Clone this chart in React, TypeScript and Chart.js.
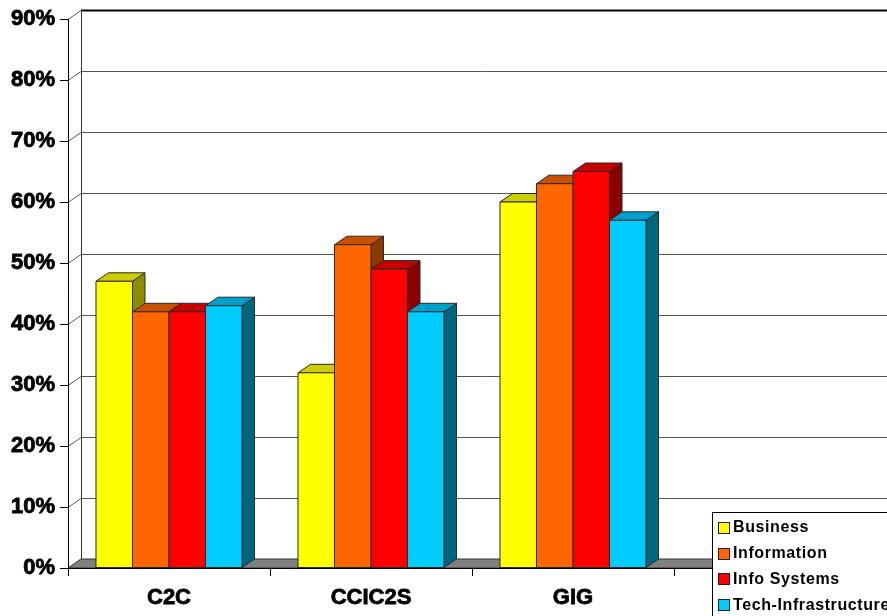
import { useEffect, useRef } from "react";
import { Chart, registerables } from "chart.js";

Chart.register(...registerables);

// Categories along the x axis (the last slot is left empty)
const categories = ["C2C", "CCIC2S", "GIG", ""];

// Series names, in legend order
const seriesNames = ["Business", "Information", "Info Systems", "Tech-Infrastructure"];

// Percentages per category
const business = [47, 32, 60, null];
const information = [42, 53, 63, null];
const infoSystems = [42, 49, 65, null];
const techInfrastructure = [43, 42, 57, null];

// Y axis range (percent)
const yMin = 0;
const yMax = 90;
const yStep = 10;

// Face colours for the 3D bars: front, top, side
const frontColors = ["#FFFF00", "#FF6600", "#FF0000", "#00CCFF"];
const topColors = ["#CCCC00", "#C85000", "#C80000", "#00A0CC"];
const sideColors = ["#8C8C00", "#8A3A00", "#8A0000", "#006680"];

const FONT = "'Liberation Sans', Arial, sans-serif";

// Oblique projection offsets for walls and bars
const WALL_DX = 13;
const WALL_DY = -9;
const BAR_DX = 12.5;
const BAR_DY = -8.5;

function poly(ctx: CanvasRenderingContext2D, pts: number[][], fill: string, stroke: string) {
  ctx.beginPath();
  ctx.moveTo(pts[0][0], pts[0][1]);
  for (let i = 1; i < pts.length; i++) ctx.lineTo(pts[i][0], pts[i][1]);
  ctx.closePath();
  ctx.fillStyle = fill;
  ctx.fill();
  ctx.strokeStyle = stroke;
  ctx.lineWidth = 1;
  ctx.stroke();
}

function line(ctx: CanvasRenderingContext2D, x1: number, y1: number, x2: number, y2: number, color: string, w = 1) {
  ctx.beginPath();
  ctx.moveTo(x1, y1);
  ctx.lineTo(x2, y2);
  ctx.strokeStyle = color;
  ctx.lineWidth = w;
  ctx.stroke();
}

const threeDPlugin = {
  id: "threeD",
  beforeDatasetsDraw(chart: any) {
    const { ctx, chartArea, scales } = chart;
    const ys = scales.y;
    const L = chartArea.left;
    const R = chartArea.right;
    const B = chartArea.bottom;
    const yTop = ys.getPixelForValue(yMax);
    ctx.save();

    // back wall gridlines and left wall diagonals
    for (let v = yMin; v <= yMax; v += yStep) {
      const yf = Math.round(ys.getPixelForValue(v)) + 0.5;
      const yb = yf + WALL_DY;
      if (v > yMin && v < yMax) line(ctx, L + WALL_DX, yb, R + WALL_DX + 20, yb, "#555555");
      line(ctx, L, yf, L + WALL_DX, yb, "#555555");
    }
    // top edge of the back wall
    line(ctx, L + WALL_DX, yTop + WALL_DY + 0.5, R + WALL_DX + 20, yTop + WALL_DY + 0.5, "#000000", 2);
    // back wall left edge
    line(ctx, L + WALL_DX + 0.5, yTop + WALL_DY, L + WALL_DX + 0.5, B + WALL_DY, "#333333");

    // floor
    poly(
      ctx,
      [
        [L, B],
        [L + WALL_DX, B + WALL_DY],
        [R + WALL_DX + 20, B + WALL_DY],
        [R + 20, B],
      ],
      "#808080",
      "#333333"
    );

    // bars, left to right
    const items: any[] = [];
    chart.data.datasets.forEach((ds: any, k: number) => {
      const meta = chart.getDatasetMeta(k);
      meta.data.forEach((el: any, j: number) => {
        if (ds.data[j] == null) return;
        items.push({ el, k });
      });
    });
    items.sort((a, b) => a.el.x - b.el.x);
    for (const { el, k } of items) {
      const xl = el.x - el.width / 2;
      const xr = el.x + el.width / 2;
      const yt = el.y;
      const yb = el.base;
      const edge = "#2a2a2a";
      // side face
      poly(
        ctx,
        [
          [xr, yt],
          [xr + BAR_DX, yt + BAR_DY],
          [xr + BAR_DX, yb + BAR_DY],
          [xr, yb],
        ],
        sideColors[k],
        edge
      );
      // top face
      poly(
        ctx,
        [
          [xl, yt],
          [xl + BAR_DX, yt + BAR_DY],
          [xr + BAR_DX, yt + BAR_DY],
          [xr, yt],
        ],
        topColors[k],
        edge
      );
      // front face
      poly(
        ctx,
        [
          [xl, yt],
          [xr, yt],
          [xr, yb],
          [xl, yb],
        ],
        frontColors[k],
        edge
      );
    }

    // front axes
    line(ctx, L + 0.5, yTop, L + 0.5, B, "#000000");
    line(ctx, L, Math.round(B) + 0.5, R + 20, Math.round(B) + 0.5, "#000000");

    ctx.restore();
    return false;
  },
  afterDraw(chart: any) {
    const { ctx } = chart;
    ctx.save();
    const bx = 712.5;
    const by = 512.5;
    ctx.fillStyle = "#ffffff";
    ctx.fillRect(bx, by, 300, 200);
    ctx.strokeStyle = "#000000";
    ctx.lineWidth = 1;
    ctx.strokeRect(bx, by, 300, 200);

    ctx.font = `bold 16px ${FONT}`;
    (ctx as any).letterSpacing = "0.6px";
    ctx.textBaseline = "middle";
    ctx.textAlign = "left";
    seriesNames.forEach((name, i) => {
      const cy = 528 + i * 25.7;
      ctx.fillStyle = frontColors[i];
      ctx.fillRect(718.5, Math.round(cy - 6) + 0.5, 11, 11);
      ctx.strokeStyle = "#222222";
      ctx.strokeRect(718.5, Math.round(cy - 6) + 0.5, 11, 11);
      ctx.fillStyle = "#000000";
      ctx.fillText(name, 733, cy);
    });
    ctx.restore();
  },
};

export default function App() {
  const canvasRef = useRef<HTMLCanvasElement | null>(null);

  useEffect(() => {
    const canvas = canvasRef.current;
    if (!canvas) return;
    const seriesValues = [business, information, infoSystems, techInfrastructure];
    const chart = new Chart(canvas, {
      type: "bar",
      data: {
        labels: categories,
        datasets: seriesNames.map((name, i) => ({
          label: name,
          data: seriesValues[i],
          backgroundColor: frontColors[i],
          categoryPercentage: 0.723,
          barPercentage: 1,
        })),
      },
      options: {
        responsive: false,
        animation: false,
        events: [],
        layout: { padding: { top: 19, right: 11, left: 0, bottom: 0 } },
        plugins: {
          legend: { display: false },
          tooltip: { enabled: false },
        },
        scales: {
          x: {
            type: "category",
            grid: {
              display: true,
              drawOnChartArea: false,
              drawTicks: true,
              tickLength: 8,
              color: "#000000",
              offset: true,
            },
            border: { display: false },
            ticks: {
              font: { family: FONT, size: 22, weight: "bold" },
              color: "#000000",
              textStrokeColor: "#000000",
              textStrokeWidth: 0.8,
              padding: 9,
              maxRotation: 0,
              autoSkip: false,
            },
            afterFit: (s: any) => {
              s.height = 48;
            },
          },
          y: {
            min: yMin,
            max: yMax,
            grid: {
              drawOnChartArea: false,
              drawTicks: true,
              tickLength: 8,
              color: "#000000",
            },
            border: { display: false },
            ticks: {
              stepSize: yStep,
              callback: (v: any) => `${v}%`,
              font: { family: FONT, size: 22, weight: "bold" },
              color: "#000000",
              textStrokeColor: "#000000",
              textStrokeWidth: 0.8,
              padding: 5,
            },
            afterFit: (s: any) => {
              s.width = 68;
            },
          },
        },
      } as any,
      plugins: [threeDPlugin],
    });
    return () => chart.destroy();
  }, []);

  return (
    <div style={{ position: "fixed", left: 0, top: 0, width: 887, height: 616, background: "#ffffff", overflow: "hidden" }}>
      <canvas ref={canvasRef} width={887} height={616} style={{ display: "block" }} />
    </div>
  );
}
